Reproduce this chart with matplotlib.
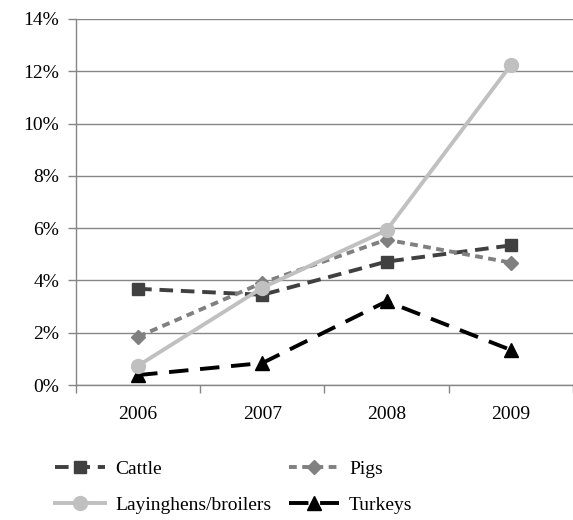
import numpy as np
import matplotlib.pyplot as plt
from matplotlib.ticker import FuncFormatter, FixedLocator

plt.rcParams['font.family'] = ['Liberation Serif', 'DejaVu Serif']

years = ['2006', '2007', '2008', '2009']
cattle = [3.68, 3.45, 4.72, 5.34]
pigs = [1.85, 3.91, 5.56, 4.68]
hens = [0.74, 3.72, 5.92, 12.24]
turkeys = [0.38, 0.84, 3.20, 1.34]

x = np.arange(len(years))

fig = plt.figure(figsize=(5.73, 5.20), dpi=100)
ax = fig.add_axes([0.1326, 0.2596, 0.8674, 0.7039])

grid_c = '#868686'
lc, = ax.plot(x, cattle, color='#404040', lw=2.8, marker='s', ms=9,
              dashes=(3.5, 2), label='Cattle', zorder=3)
lp, = ax.plot(x, pigs, color='#808080', lw=2.8, marker='D', ms=7,
              dashes=(2, 1.4), label='Pigs', zorder=3)
lh, = ax.plot(x, hens, color='#c0c0c0', lw=2.8, marker='o', ms=10,
              label='Layinghens/broilers', zorder=4)
lt, = ax.plot(x, turkeys, color='black', lw=2.8, marker='^', ms=10,
              dashes=(5, 3), label='Turkeys', zorder=3)

ax.set_xlim(-0.5, 3.5)
ax.set_ylim(0, 14)
ax.set_yticks(np.arange(0, 15, 2))
ax.yaxis.set_major_formatter(FuncFormatter(lambda v, p: f'{v:.0f}%'))
ax.grid(axis='y', color=grid_c, lw=1)
ax.set_axisbelow(True)

ax.set_xticks(x)
ax.set_xticklabels(years)
ax.xaxis.set_minor_locator(FixedLocator(np.arange(-0.5, 4, 1)))
ax.tick_params(axis='x', which='major', length=0, pad=15, labelsize=14)
ax.tick_params(axis='x', which='minor', length=6, color=grid_c, width=1)
ax.tick_params(axis='y', length=6, color=grid_c, width=1, labelsize=14, pad=6)

for s in ['top', 'right']:
    ax.spines[s].set_visible(False)
for s in ['left', 'bottom']:
    ax.spines[s].set_color(grid_c)
    ax.spines[s].set_linewidth(1)

# row-wise legend: Cattle, Pigs / Layinghens, Turkeys
fig.legend([lc, lh, lp, lt], ['Cattle', 'Layinghens/broilers', 'Pigs', 'Turkeys'],
           loc='lower left', bbox_to_anchor=(0.065, -0.022), ncol=2,
           frameon=False, fontsize=14, handlelength=2.6, handletextpad=0.5,
           columnspacing=0.9, labelspacing=0.95)

fig.savefig('out.png', dpi=100)
